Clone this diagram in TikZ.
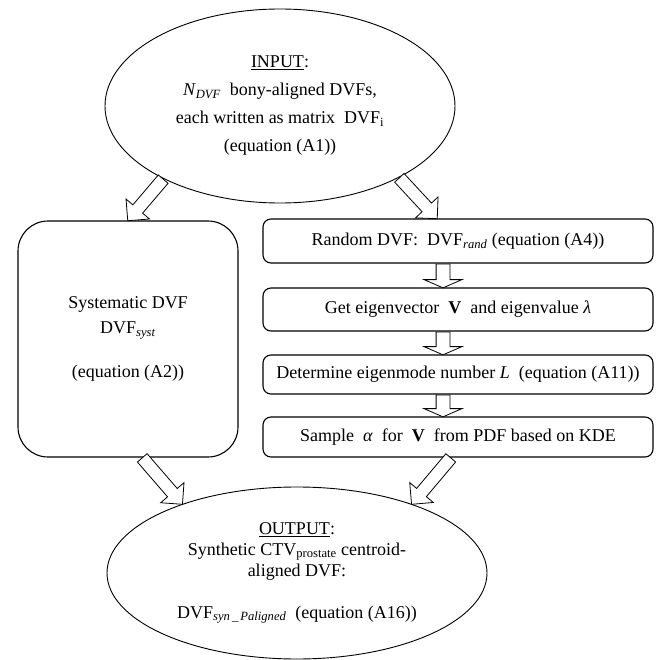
\documentclass[tikz,border=0pt]{standalone}
\usepackage{fontspec}
\setmainfont{Liberation Serif}
\usetikzlibrary{shapes.geometric,shapes.arrows,calc}

\tikzset{
  oval/.style={ellipse, draw, line width=0.9pt, inner sep=0pt, align=center},
  stepbox/.style={draw, line width=1.1pt, rounded corners=8pt, minimum width=390pt,
    inner sep=0pt, font=\fontsize{18}{22}\selectfont},
  blkarr/.style={single arrow, draw, line width=0.8pt, fill=white, inner xsep=0pt,
    inner ysep=6.5pt, minimum width=0pt, single arrow head extend=12pt,
    single arrow tip angle=133, single arrow head indent=0pt},
  diagarr/.style={blkarr, inner ysep=6pt, single arrow head extend=9pt,
    single arrow tip angle=90},
}
% hollow block arrow from one point to another
\newcommand{\blkarrow}[3][]{%
  \path let \p1=(#2), \p2=(#3), \n1={atan2(\y2-\y1,\x2-\x1)},
    \n2={veclen(\x2-\x1,\y2-\y1)} in
    node[blkarr, #1, rotate=\n1, minimum height=\n2, anchor=tail] at (\p1) {};}

\begin{document}
\begin{tikzpicture}[x=1pt,y=-1pt]
  \useasboundingbox (0,0) rectangle (661,660);

  \node[oval, minimum width=350pt, minimum height=194pt,
    font=\fontsize{18}{28}\selectfont] (in) at (280,106)
    {\underline{INPUT}:\\
     \textit{N}\textsubscript{\textit{DVF}}\ \ bony-aligned DVFs,\\
     each written as matrix\ \ DVF\textsubscript{i}\\
     (equation (A1))};

  \node[draw, line width=1.1pt, rounded corners=30pt, minimum width=220pt,
    minimum height=236pt, align=center, font=\fontsize{18}{25}\selectfont]
    (sys) at (128,339)
    {Systematic DVF\\ DVF\textsubscript{\textit{syst}}\\[19pt] (equation (A2))};

  \node[stepbox, minimum height=44pt] (rand) at (458,241)
    {Random DVF:\ \ DVF\textsubscript{\textit{rand}} (equation (A4))};
  \node[stepbox, minimum height=43pt] (eig) at (458,309.5)
    {Get eigenvector\ \ \textbf{V}\ \ and eigenvalue \textit{λ}};
  \node[stepbox, minimum height=39pt] (det) at (458,374.5)
    {Determine eigenmode number \textit{L}\ \ (equation (A11))};
  \node[stepbox, minimum height=40pt] (samp) at (458,437)
    {Sample\ \ \textit{α}\ \ for\ \ \textbf{V}\ \ from PDF based on KDE};

  \node[oval, minimum width=380pt, minimum height=172pt,
    font=\fontsize{18}{21}\selectfont] (out) at (297,573)
    {\underline{OUTPUT}:\\
     Synthetic CTV\textsubscript{prostate} centroid-\\
     aligned DVF:\\[21pt]
     DVF\textsubscript{\textit{syn\,\_\,Paligned}}\ \ (equation (A16))};

  \blkarrow[diagarr]{in.212}{sys.north}
  \blkarrow[diagarr]{in.329}{[xshift=-21pt]rand.north}
  \blkarrow{[xshift=-15pt]rand.south}{[xshift=-15pt]eig.north}
  \blkarrow{[xshift=-15pt]eig.south}{[xshift=-15pt]det.north}
  \blkarrow{[xshift=-15pt]det.south}{[xshift=-15pt]samp.north}
  \blkarrow[diagarr]{[xshift=14pt]sys.south}{out.149}
  \blkarrow[diagarr]{[xshift=-7pt]samp.south}{out.31}
\end{tikzpicture}
\end{document}
